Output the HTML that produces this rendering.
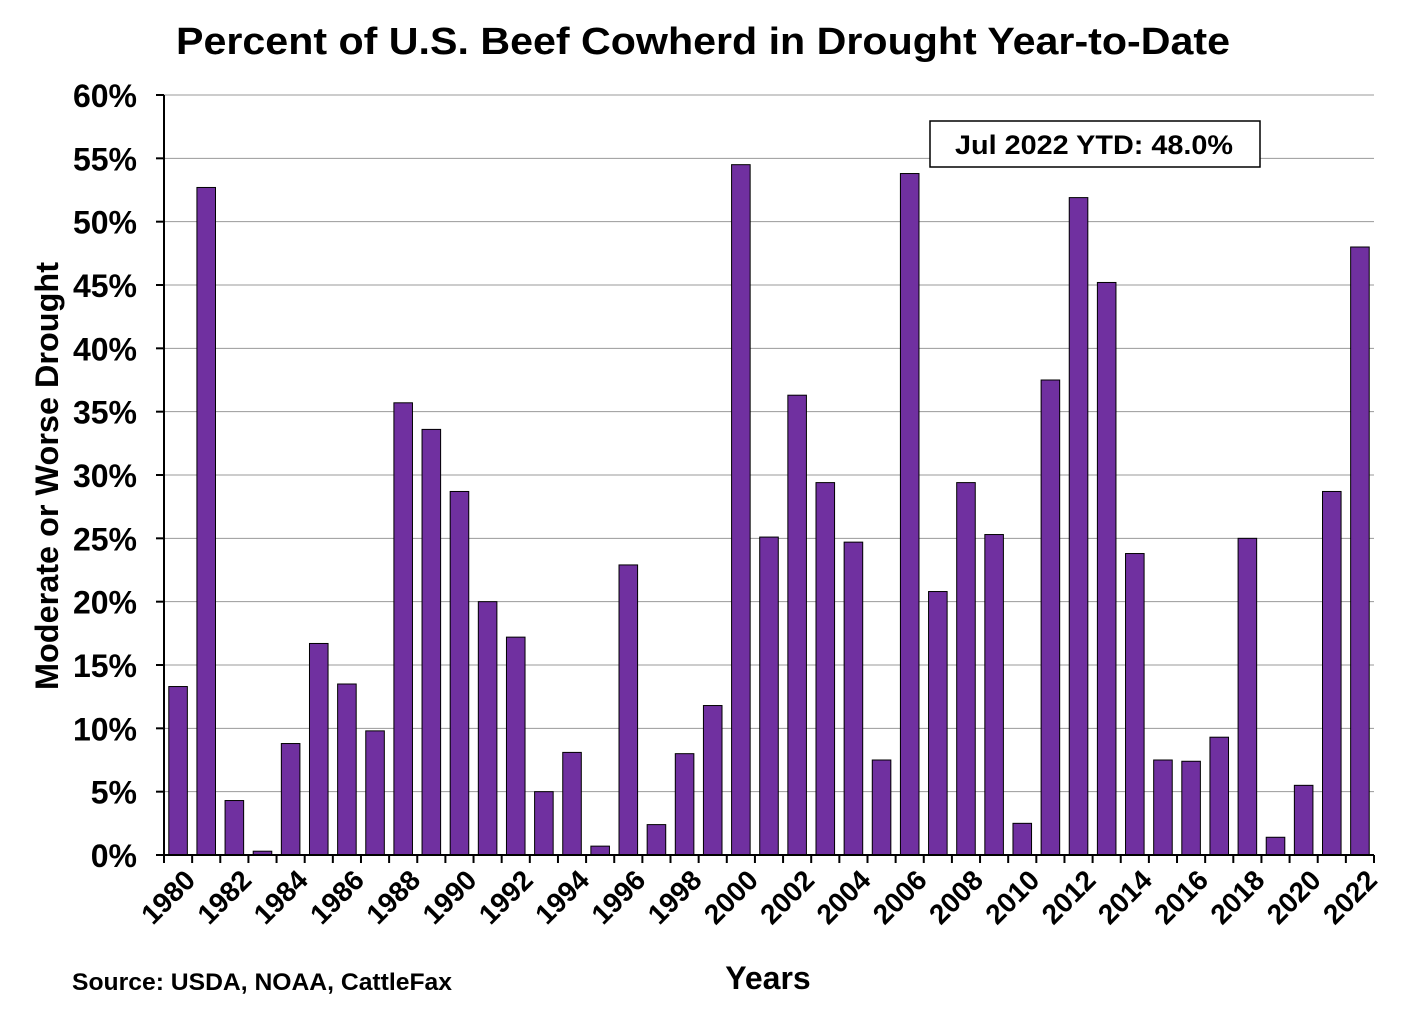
<!DOCTYPE html>
<html><head><meta charset="utf-8"><style>
body{margin:0;background:#fff;}
svg{display:block;font-family:"Liberation Sans",Arial,sans-serif;font-weight:bold;}
</style></head><body>
<svg id="chart" width="1406" height="1022" viewBox="0 0 1406 1022">
<text x="703" y="54" text-anchor="middle" font-size="38" textLength="1054" lengthAdjust="spacingAndGlyphs">Percent of U.S. Beef Cowherd in Drought Year-to-Date</text>
<g id="grid"></g>
<g id="bars"></g>
<g id="axes"></g>
<text transform="translate(58,476) rotate(-90)" text-anchor="middle" font-size="32" textLength="428" lengthAdjust="spacingAndGlyphs">Moderate or Worse Drought</text>
<text x="768" y="989" text-anchor="middle" font-size="32">Years</text>
<text x="72" y="990" font-size="24" textLength="380" lengthAdjust="spacingAndGlyphs">Source: USDA, NOAA, CattleFax</text>
<g>
<rect x="930" y="121" width="330" height="46" fill="#fff" stroke="#000" stroke-width="1.5"/>
<text x="1094" y="154" text-anchor="middle" font-size="27" textLength="278" lengthAdjust="spacingAndGlyphs">Jul 2022 YTD: 48.0%</text>
</g>
</svg>
<script>
const years=[];for(let y=1980;y<=2022;y++)years.push(y);
const values=[13.3,52.7,4.3,0.3,8.8,16.7,13.5,9.8,35.7,33.6,28.7,20.0,17.2,5.0,8.1,0.7,22.9,2.4,8.0,11.8,54.5,25.1,36.3,29.4,24.7,7.5,53.8,20.8,29.4,25.3,2.5,37.5,51.9,45.2,23.8,7.5,7.4,9.3,25.0,1.4,5.5,28.7,48.0];
const yTicks=[0,5,10,15,20,25,30,35,40,45,50,55,60];
const NS="http://www.w3.org/2000/svg";
const x0=164,x1=1374,yBase=855,yTop=95,yMax=60;
const band=(x1-x0)/years.length;
const yScale=v=>yBase-(v/yMax)*(yBase-yTop);
const xScale=i=>x0+i*band;
function mk(tag,attrs,parent){const e=document.createElementNS(NS,tag);for(const k in attrs)e.setAttribute(k,attrs[k]);parent.appendChild(e);return e;}
const grid=document.getElementById('grid'),bars=document.getElementById('bars'),axes=document.getElementById('axes');
yTicks.forEach(t=>{
  const y=yScale(t);
  if(t>0){const g=mk('line',{x1:x0,x2:x1,y1:y,y2:y,stroke:'#999','stroke-width':1},grid);
  
  }
  mk('line',{x1:x0-8,x2:x0,y1:y,y2:y,stroke:'#000','stroke-width':2},axes);
  const l=mk('text',{x:x0-27,y:y+12,'text-anchor':'end','font-size':32},axes);
  l.textContent=t+'%';
  
  
});
values.forEach((v,i)=>{
  const bw=band*0.66;
  const x=xScale(i)+(band-bw)/2;
  const r=mk('rect',{x:x,y:yScale(v),width:bw,height:yBase-yScale(v),fill:'#7030a0',stroke:'#000','stroke-width':1},bars);
  
  
});
mk('line',{x1:x0,x2:x0,y1:yTop,y2:yBase,stroke:'#000','stroke-width':2},axes);
mk('line',{x1:x0,x2:x1,y1:yBase,y2:yBase,stroke:'#000','stroke-width':2},axes);
for(let i=0;i<=years.length;i++){mk('line',{x1:xScale(i),x2:xScale(i),y1:yBase,y2:yBase+8,stroke:'#000','stroke-width':2},axes);}
years.forEach((y,i)=>{
  if(i%2)return;
  const cx=xScale(i)+band/2+4, cy=yBase+12;
  const t=mk('text',{x:cx,y:cy,'text-anchor':'end','font-size':28,transform:`rotate(-45 ${cx} ${cy})`,dy:'0.75em'},axes);
  t.textContent=y;
  
  
});
</script>
</body></html>
